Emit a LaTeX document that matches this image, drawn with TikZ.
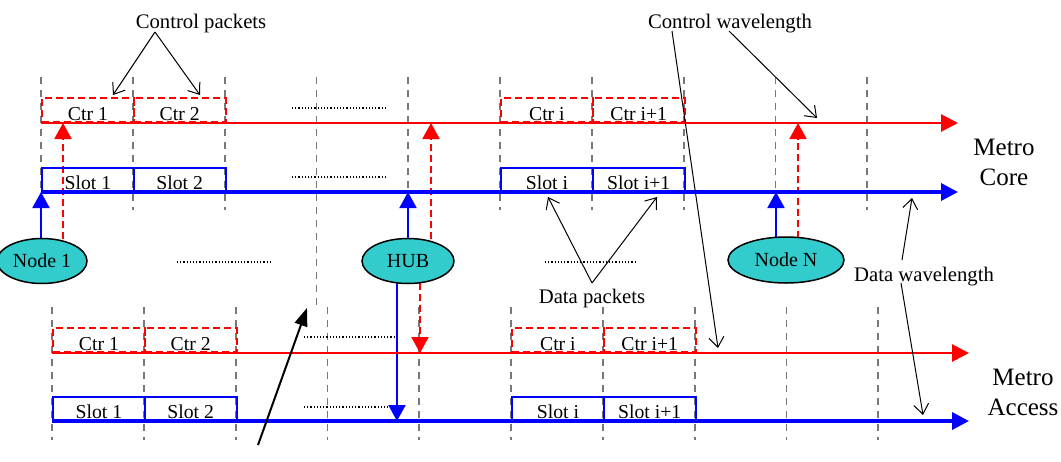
\documentclass[tikz,border=0pt]{standalone}
\usepackage{fontspec}
\setmainfont{Liberation Serif}
\usetikzlibrary{arrows.meta,shapes.geometric,calc}
\pgfdeclarelayer{bg}
\pgfdeclarelayer{mid}
\pgfsetlayers{bg,mid,main}
\definecolor{nodefill}{RGB}{51,204,204}
\definecolor{gridgray}{RGB}{120,120,120}
\begin{document}
\begin{tikzpicture}[x=1pt,y=-1pt,
  gridline/.style={draw=gridgray, line width=1.8pt, dash pattern=on 7pt off 6pt},
  dotline/.style={draw=black, line width=1.2pt, dash pattern=on 1.2pt off 2pt},
  ctrbox/.style={draw=red, line width=2pt, dash pattern=on 7pt off 4pt, minimum width=91.8pt, minimum height=24pt, inner sep=0pt, anchor=south west},
  slotbox/.style={draw=blue, line width=2pt, minimum width=91.8pt, minimum height=23pt, inner sep=0pt, anchor=south west},
  boxtext/.style={font=\fontsize{19.7}{22}\selectfont, anchor=base, inner sep=0pt},
  redmain/.style={draw=red, line width=2.8pt, -{Triangle[length=17pt,width=17pt]}},
  bluemain/.style={draw=blue, line width=3.5pt, -{Triangle[length=17pt,width=17pt]}},
  bluecon/.style={draw=blue, line width=2pt, -{Triangle[length=16pt,width=17pt]}},
  redcon/.style={draw=red, line width=2pt, dash pattern=on 7pt off 4pt, -{Triangle[length=16pt,width=17pt]}},
  station/.style={ellipse, draw=black, line width=1.5pt, fill=nodefill, inner sep=0pt, font=\fontsize{20}{22}\selectfont},
  ann/.style={draw=black, line width=1pt, -{Straight Barb[length=10pt,width=15pt]}},
  anntext/.style={font=\fontsize{20.7}{24}\selectfont, anchor=base, inner sep=0pt},
  bigtext/.style={font=\fontsize{25}{30}\selectfont, anchor=base, inner sep=0pt},
  pointer/.style={draw=black, line width=2pt, -{Triangle[length=18pt,width=13pt]}}
]
\useasboundingbox (0,0) rectangle (1061,461);

% grid and dotted lines
\begin{pgfonlayer}{bg}
  \foreach \k in {0,1,2,4,5,6,7,8,9} {
    \draw[gridline] ({41+91.8*\k},77) -- ({41+91.8*\k},210);
  }
  \draw[gridline] ({41+91.8*3},77) -- ({41+91.8*3},305);
  \foreach \k in {0,...,9} {
    \draw[gridline] ({52+91.8*\k},307) -- ({52+91.8*\k},440);
  }
  \draw[dotline] (292,108) -- (385,108);
  \draw[dotline] (292,177) -- (385,177);
  \draw[dotline] (177,262) -- (270,262);
  \draw[dotline] (545,262) -- (637,262);
  \draw[dotline] (304,337) -- (396,337);
  \draw[dotline] (304,407) -- (393,407);
\end{pgfonlayer}

% top (Metro Core) boxes
\node[ctrbox] (tc1) at (41,123) {};
\node[ctrbox] (tc2) at (132.8,123) {};
\node[ctrbox] (tci) at (500,123) {};
\node[ctrbox] (tcj) at (591.8,123) {};
\node[slotbox] (ts1) at (41,192) {};
\node[slotbox] (ts2) at (132.8,192) {};
\node[slotbox] (tsi) at (500,192) {};
\node[slotbox] (tsj) at (591.8,192) {};
\node[boxtext] (ttc1) at ($(tc1.south)+(0,-3)$) {Ctr 1};
\node[boxtext] (ttc2) at ($(tc2.south)+(0,-3)$) {Ctr 2};
\node[boxtext] (ttci) at ($(tci.south)+(0,-3)$) {Ctr i};
\node[boxtext] (ttcj) at ($(tcj.south)+(0,-3)$) {Ctr i+1};
\node[boxtext] (tts1) at ($(ts1.south)+(0,-3)$) {Slot 1};
\node[boxtext] (tts2) at ($(ts2.south)+(0,-3)$) {Slot 2};
\node[boxtext] (ttsi) at ($(tsi.south)+(0,-3)$) {Slot i};
\node[boxtext] (ttsj) at ($(tsj.south)+(0,-3)$) {Slot i+1};

% bottom (Metro Access) boxes
\node[ctrbox] (bc1) at (52,353) {};
\node[ctrbox] (bc2) at (143.8,353) {};
\node[ctrbox] (bci) at (511,353) {};
\node[ctrbox] (bcj) at (602.8,353) {};
\node[slotbox] (bs1) at (52,421) {};
\node[slotbox] (bs2) at (143.8,421) {};
\node[slotbox] (bsi) at (511,421) {};
\node[slotbox] (bsj) at (602.8,421) {};
\node[boxtext] (btc1) at ($(bc1.south)+(0,-3)$) {Ctr 1};
\node[boxtext] (btc2) at ($(bc2.south)+(0,-3)$) {Ctr 2};
\node[boxtext] (btci) at ($(bci.south)+(0,-3)$) {Ctr i};
\node[boxtext] (btcj) at ($(bcj.south)+(0,-3)$) {Ctr i+1};
\node[boxtext] (bts1) at ($(bs1.south)+(0,-3)$) {Slot 1};
\node[boxtext] (bts2) at ($(bs2.south)+(0,-3)$) {Slot 2};
\node[boxtext] (btsi) at ($(bsi.south)+(0,-3)$) {Slot i};
\node[boxtext] (btsj) at ($(bsj.south)+(0,-3)$) {Slot i+1};

% wavelength lines
\coordinate (tr0) at (41,123);  \coordinate (tr1) at (958,123);
\coordinate (tb0) at (41,192);  \coordinate (tb1) at (958,192);
\coordinate (br0) at (52,353);  \coordinate (br1) at (969,353);
\coordinate (bb0) at (52,421);  \coordinate (bb1) at (969,421);
\draw[redmain] (tr0) -- (tr1);
\draw[bluemain] (tb0) -- (tb1);
\draw[redmain] (br0) -- (br1);
\draw[bluemain] (bb0) -- (bb1);

% stations
\node[station, minimum width=90pt, minimum height=45pt] (n1) at (42,261) {Node 1};
\node[station, minimum width=92pt, minimum height=45pt] (hub) at (408,261) {HUB};
\node[station, minimum width=116pt, minimum height=46pt] (nn) at (786,260) {Node N};

\coordinate (n1b) at ($(n1.center)+(-1,0)$);
\coordinate (n1r) at ($(n1.center)+(21,0)$);
\coordinate (hubr) at ($(hub.center)+(23,0)$);
\coordinate (hubd) at ($(hub.center)+(-11,0)$);
\coordinate (hube) at ($(hub.center)+(12,0)$);
\coordinate (nnb) at ($(nn.center)+(-10,0)$);
\coordinate (nnr) at ($(nn.center)+(12,0)$);

\begin{pgfonlayer}{mid}
  \draw[bluecon] (n1b) -- (n1b |- tb0);
  \draw[redcon] (n1r) -- (n1r |- tr0);
  \draw[bluecon] (hub.center) -- (hub.center |- tb0);
  \draw[redcon] (hubr) -- (hubr |- tr0);
  \draw[bluecon] (hubd) -- (hubd |- bb0);
  \draw[redcon] (hube) -- (hube |- br0);
  \draw[bluecon] (nnb) -- (nnb |- tb0);
  \draw[redcon] (nnr) -- (nnr |- tr0);
\end{pgfonlayer}

% annotations
\node[anntext] (cp) at (201,28) {Control packets};
\coordinate (cpa) at (155,32);
\coordinate (cpt1) at (113,95);
\coordinate (cpt2) at (200,95);
\draw[ann] (cpa) -- (cpt1);
\draw[ann] (cpa) -- (cpt2);

\node[anntext] (cw) at (730,28) {Control wavelength};
\coordinate (cwa) at (672,31);
\coordinate (cwb) at (729,31);
\coordinate (cwt1) at (718,348);
\coordinate (cwt2) at (817,118);
\draw[ann] (cwa) -- (cwt1);
\draw[ann] (cwb) -- (cwt2);

\node[anntext] (dp) at (592,303) {Data packets};
\coordinate (dpa) at (592,283);
\coordinate (dpt1) at (548,197);
\coordinate (dpt2) at (657,197);
\draw[ann] (dpa) -- (dpt1);
\draw[ann] (dpa) -- (dpt2);

\node[anntext] (dw) at (924,281) {Data wavelength};
\coordinate (dwa) at (902,260);
\coordinate (dwb) at (901,283);
\coordinate (dwt1) at (912,198);
\coordinate (dwt2) at (923,415);
\draw[ann] (dwa) -- (dwt1);
\draw[ann] (dwb) -- (dwt2);

\coordinate (pa) at (258,445);
\coordinate (pt) at (307,308);
\draw[pointer] (pa) -- (pt);

\node[bigtext] (mc1) at (1004,155) {Metro};
\node[bigtext] (mc2) at (1004,185) {Core};
\node[bigtext] (ma1) at (1023,385) {Metro};
\node[bigtext] (ma2) at (1023,415) {Access};
\end{tikzpicture}
\end{document}
